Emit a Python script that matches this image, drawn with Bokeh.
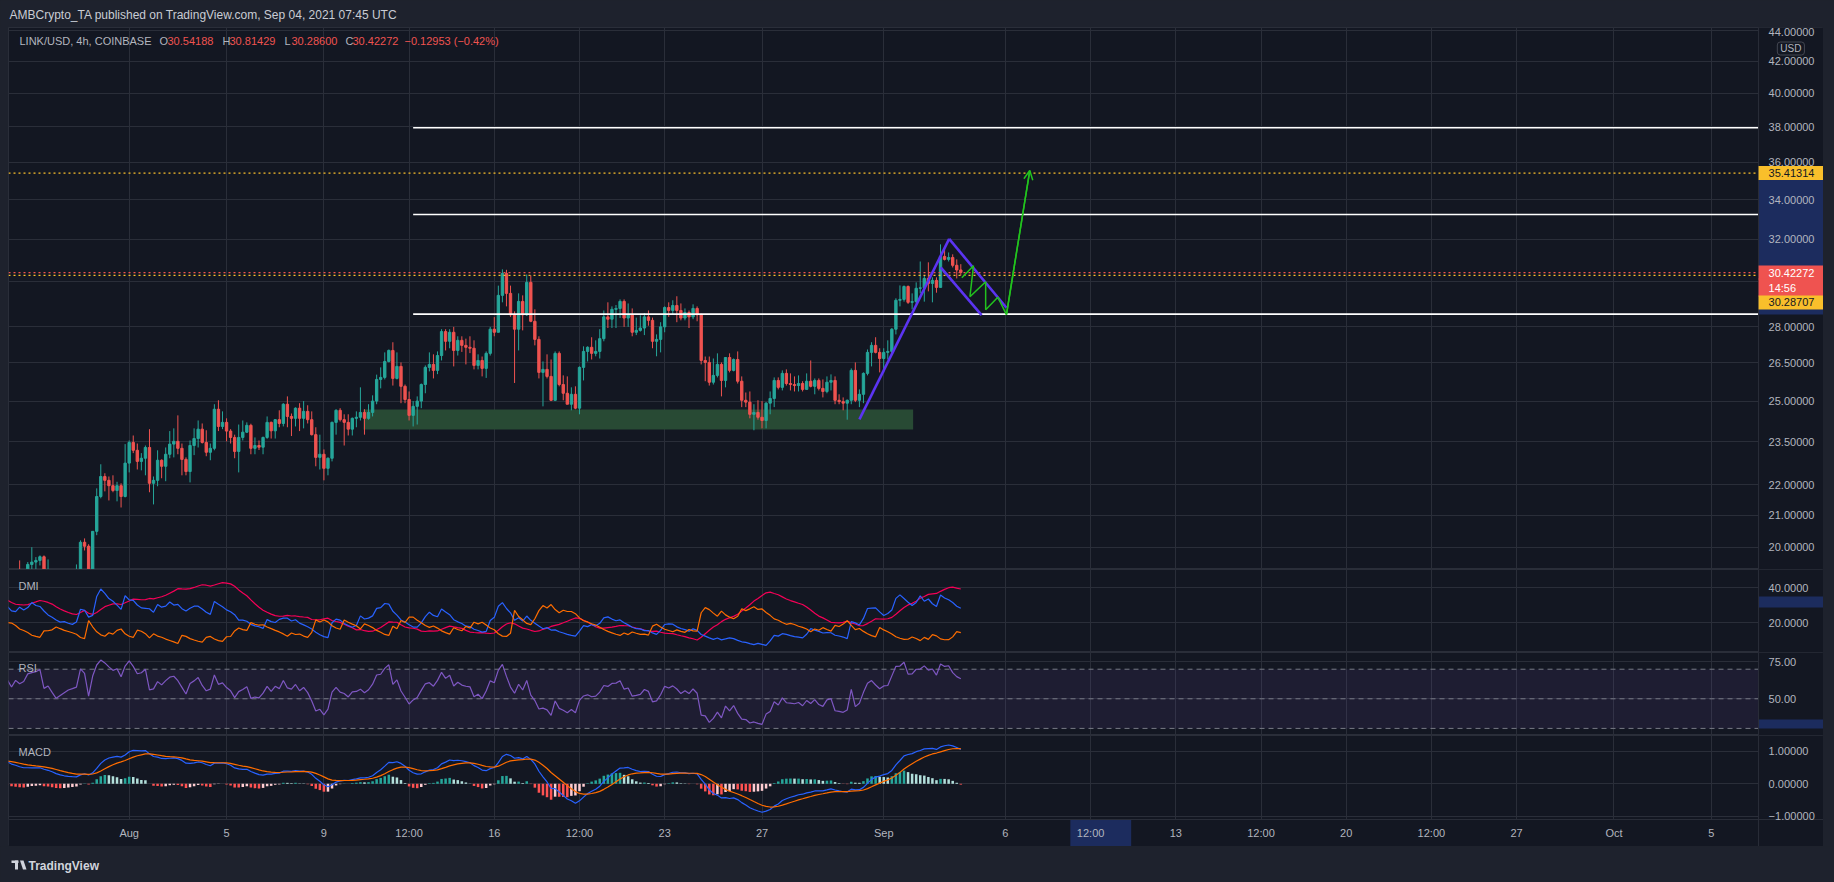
import math
from datetime import datetime, timedelta
from bokeh.plotting import figure
from bokeh.layouts import column
from bokeh.models import (Range1d, FixedTicker, Label, Span, Arrow, OpenHead,
                          ColumnDataSource)
from bokeh.embed import file_html
from bokeh.resources import INLINE
from bokeh.core.properties import value

# ---------------------------------------------------------------- data
bar_start = datetime(2021, 7, 27, 0, 0)   # first 4h candle
first_open = 19.1
closes = [
    19.0, 18.8, 19.1, 19.0, 19.1, 19.48, 19.55, 19.6, 19.71, 19.2,
    19.3, 19.1, 18.9, 19.0, 19.1, 19.2, 19.25, 19.3, 20.15, 20.03,
    19.25, 20.49, 21.61, 22.28, 22.15, 21.97, 21.81, 21.97, 21.61, 22.74,
    23.47, 23.19, 22.8, 22.91, 23.29, 22.05, 22.15, 22.84, 22.63, 23.05,
    23.41, 23.51, 23.26, 22.87, 22.45, 23.36, 23.61, 23.95, 23.47, 23.12,
    23.26, 24.69, 24.05, 24.2, 23.88, 23.65, 23.15, 23.65, 23.84, 24.09,
    23.26, 23.36, 23.3, 23.65, 24.2, 23.89, 24.3, 24.16, 24.88, 24.42,
    24.35, 24.73, 24.35, 24.61, 24.3, 23.75, 22.94, 23.05, 22.56, 22.91,
    24.2, 24.65, 24.3, 24.2, 23.95, 24.35, 24.39, 24.57, 24.35, 24.57,
    25.0, 25.84, 25.92, 26.56, 27.01, 25.88, 26.36, 25.57, 25.06, 24.46,
    24.8, 25.0, 25.64, 26.32, 26.44, 26.2, 26.8, 27.8, 27.39, 27.77,
    27.01, 27.43, 27.22, 27.14, 27.1, 26.4, 26.6, 26.28, 26.89, 27.9,
    27.77, 29.38, 30.38, 29.47, 28.52, 27.9, 29.11, 28.52, 29.97, 28.24,
    27.47, 26.12, 26.24, 25.96, 25.03, 26.89, 25.64, 25.3, 24.88, 25.26,
    24.73, 26.32, 26.97, 27.14, 26.89, 26.97, 27.5, 28.43, 28.33, 28.76,
    28.8, 29.11, 28.38, 28.52, 27.77, 27.85, 27.95, 28.43, 28.28, 27.39,
    27.47, 28.0, 28.84, 28.71, 28.93, 28.71, 28.38, 28.62, 28.43, 28.8,
    28.52, 26.6, 26.52, 25.73, 26.0, 26.44, 25.8, 26.72, 26.2, 26.64,
    25.77, 25.03, 24.96, 24.5, 24.57, 24.39, 24.27, 24.92, 25.1, 25.8,
    25.53, 26.08, 25.68, 25.64, 25.6, 25.68, 25.45, 25.77, 25.57, 25.8,
    25.49, 25.37, 25.73, 25.8, 25.03, 24.98, 24.92, 25.03, 26.2, 25.03,
    25.26, 26.08, 26.93, 27.22, 26.93, 26.68, 26.93, 26.97, 27.9, 29.16,
    29.2, 29.78, 29.07, 29.1, 29.7, 29.72, 30.15, 29.92, 30.06, 29.74,
    31.18, 31.04, 31.13, 30.76, 30.54, 30.42272,
]
highs = [
    19.2, 19.1, 19.2, 19.6, 19.3, 19.55, 20.0, 19.7, 19.75, 19.75,
    19.63, 19.3, 19.2, 19.2, 19.3, 19.3, 19.32, 19.48, 20.21, 20.27,
    20.09, 20.5, 21.88, 22.7, 22.39, 22.28, 22.32, 22.1, 22.05, 23.41,
    23.54, 23.72, 23.43, 23.09, 23.36, 23.95, 22.28, 23.19, 22.87, 23.29,
    23.88, 23.98, 24.46, 23.43, 22.94, 23.54, 23.98, 24.27, 24.16, 23.91,
    23.43, 24.88, 25.03, 24.61, 24.35, 23.95, 23.75, 24.12, 24.27, 24.2,
    24.15, 23.65, 23.54, 23.68, 24.42, 24.23, 24.32, 24.65, 24.92, 25.18,
    24.53, 24.76, 24.92, 25.0, 24.84, 24.61, 24.02, 23.75, 23.22, 22.94,
    24.23, 24.69, 24.73, 24.5, 24.5, 24.38, 24.61, 25.53, 24.69, 24.88,
    25.22, 26.03, 26.32, 26.93, 27.05, 27.35, 26.93, 26.52, 25.64, 25.37,
    25.0, 25.18, 25.68, 26.4, 26.93, 26.85, 26.97, 27.9, 27.9, 27.9,
    28.0, 27.6, 27.6, 27.5, 27.6, 27.43, 26.85, 26.76, 26.97, 28.0,
    28.42, 29.82, 30.57, 30.55, 29.82, 28.67, 29.47, 29.38, 30.33, 30.29,
    28.76, 27.6, 26.56, 26.85, 26.64, 26.97, 26.97, 26.0, 25.96, 25.53,
    25.57, 26.36, 27.18, 27.18, 27.56, 27.43, 27.9, 28.71, 29.07, 28.89,
    28.95, 29.2, 29.2, 29.02, 28.8, 28.4, 28.5, 28.6, 28.71, 28.4,
    27.68, 28.2, 28.89, 29.07, 29.16, 29.34, 29.02, 28.8, 28.71, 28.98,
    28.89, 28.57, 26.76, 26.76, 26.68, 26.89, 26.52, 26.72, 26.89, 26.68,
    26.97, 25.96, 25.33, 25.37, 24.88, 25.03, 25.0, 24.96, 25.37, 25.92,
    25.92, 26.2, 26.24, 26.08, 25.96, 26.0, 25.77, 26.08, 26.6, 25.88,
    25.88, 25.84, 25.96, 26.04, 25.96, 25.26, 25.14, 25.06, 26.28, 26.52,
    25.45, 26.12, 27.05, 27.35, 27.56, 27.1, 27.1, 27.43, 27.95, 29.25,
    29.83, 29.83, 29.83, 29.47, 29.97, 30.94, 30.29, 30.9, 30.2, 30.2,
    31.76, 31.66, 31.37, 31.28, 31.04, 30.81429,
]
lows = [
    18.6, 18.5, 18.7, 18.8, 18.9, 19.0, 19.2, 19.3, 19.45, 19.1,
    19.0, 18.9, 18.7, 18.8, 18.9, 19.0, 19.0, 19.1, 19.2, 19.9,
    19.0, 19.1, 20.37, 21.55, 21.78, 21.48, 21.75, 21.45, 21.25, 21.58,
    22.42, 23.09, 22.52, 22.49, 22.32, 21.75, 21.35, 21.95, 22.22, 22.12,
    22.91, 22.94, 23.05, 22.32, 22.32, 22.08, 23.02, 23.29, 23.43, 22.98,
    22.84, 23.19, 23.88, 23.95, 23.51, 23.43, 22.91, 22.42, 23.54, 23.81,
    23.05, 23.05, 23.2, 23.05, 23.6, 23.61, 23.61, 24.02, 24.05, 24.02,
    23.7, 24.05, 23.88, 23.98, 24.16, 23.72, 22.63, 22.52, 22.15, 22.32,
    22.8, 23.75, 24.23, 23.36, 23.72, 23.72, 24.02, 24.27, 23.75, 24.3,
    24.42, 24.88, 25.49, 25.84, 26.52, 25.6, 25.84, 24.92, 24.92, 24.27,
    24.05, 24.12, 24.73, 25.3, 26.16, 25.88, 26.05, 26.6, 27.01, 27.1,
    26.36, 26.8, 26.95, 26.44, 26.9, 26.24, 26.24, 25.96, 25.9, 26.8,
    27.6, 27.8, 29.07, 28.89, 28.43, 25.7, 27.01, 27.85, 28.47, 28.2,
    27.22, 25.88, 24.8, 25.88, 25.0, 25.0, 25.57, 25.03, 24.88, 24.65,
    24.69, 24.5, 25.8, 26.56, 26.64, 26.77, 26.68, 27.39, 27.95, 27.95,
    27.95, 28.38, 28.0, 28.0, 27.6, 27.65, 27.8, 27.65, 28.05, 27.1,
    26.77, 26.93, 27.77, 28.43, 28.52, 28.2, 28.28, 28.28, 27.95, 28.33,
    28.24, 26.44, 25.77, 25.6, 25.64, 25.92, 25.18, 25.53, 26.12, 26.16,
    25.68, 24.77, 24.77, 24.35, 23.91, 24.3, 23.98, 23.98, 24.5, 24.77,
    25.45, 25.41, 25.6, 25.41, 25.37, 25.37, 25.37, 25.45, 25.53, 25.26,
    25.41, 25.14, 25.3, 25.41, 24.88, 24.88, 24.65, 24.3, 24.88, 24.96,
    24.77, 24.92, 26.0, 26.36, 26.89, 26.12, 26.12, 26.64, 26.89, 27.68,
    28.89, 29.1, 29.0, 28.76, 29.02, 29.47, 29.1, 29.56, 29.07, 29.5,
    29.74, 30.99, 30.94, 30.66, 30.15, 30.286,
]
last_open = 30.54188

price_ticks = [20, 21, 22, 23.5, 25, 26.5, 28, 30, 32, 34, 36, 38, 40, 42, 44]
price_tick_labels = ["20.00000", "21.00000", "22.00000", "23.50000", "25.00000", "26.50000",
                     "28.00000", "30.00000", "32.00000", "34.00000", "36.00000", "38.00000",
                     "40.00000", "42.00000", "44.00000"]
dmi_ticks = [20, 40]
dmi_tick_labels = ["20.0000", "40.0000"]
rsi_ticks = [50, 75]
rsi_tick_labels = ["50.00", "75.00"]
macd_ticks = [-1, 0, 1]
macd_tick_labels = ["\u22121.00000", "0.00000", "1.00000"]
time_tick_dates = [datetime(2021, 8, 1), datetime(2021, 8, 5), datetime(2021, 8, 9),
                   datetime(2021, 8, 12, 12), datetime(2021, 8, 16), datetime(2021, 8, 19, 12),
                   datetime(2021, 8, 23), datetime(2021, 8, 27), datetime(2021, 9, 1),
                   datetime(2021, 9, 6), datetime(2021, 9, 9, 12), datetime(2021, 9, 13),
                   datetime(2021, 9, 16, 12), datetime(2021, 9, 20), datetime(2021, 9, 23, 12),
                   datetime(2021, 9, 27), datetime(2021, 10, 1), datetime(2021, 10, 5)]
time_tick_labels = ["Aug", "5", "9", "12:00", "16", "12:00", "23", "27", "Sep", "6",
                    "12:00", "13", "12:00", "20", "12:00", "27", "Oct", "5"]

# drawings
level_prices = [37.95, 33.24, 28.55]
level_start = datetime(2021, 8, 12, 16)
zone_times = [datetime(2021, 8, 10, 15), datetime(2021, 9, 2, 5)]
zone_prices = [23.94, 24.68]
target_price = 35.41314
current_price = 30.42272
support_price = 30.28707
pole_t = [datetime(2021, 8, 31, 0), datetime(2021, 9, 3, 16, 30)]
pole_p = [24.31, 32.03]
upper_t = [datetime(2021, 9, 3, 16, 30), datetime(2021, 9, 6, 1)]
upper_p = [32.03, 28.83]
lower_t = [datetime(2021, 9, 3, 8, 10), datetime(2021, 9, 5, 0, 30)]
lower_p = [30.66, 28.51]
path_t = [datetime(2021, 9, 4, 5), datetime(2021, 9, 4, 16, 30), datetime(2021, 9, 4, 13),
          datetime(2021, 9, 5, 4, 30), datetime(2021, 9, 5, 4, 30), datetime(2021, 9, 5, 16, 30),
          datetime(2021, 9, 6, 1), datetime(2021, 9, 7, 0)]
path_p = [30.18, 30.74, 29.32, 30.0, 28.74, 29.30, 28.53, 35.55]
dmi_axis_band = [28.7, 35.0]
rsi_axis_band = [29.9, 36.0]
time_highlight = [datetime(2021, 9, 8, 16), datetime(2021, 9, 11, 4)]

# indicator starting states (read at the left edge of the picture)
dmi_seed = dict(atr=0.5, pdm=0.16, mdm=0.11, adx=34.0)
rsi_seed = dict(gain=0.13, loss=0.07)
macd_seed = dict(fast=19.05, slow=18.32, signal=0.70)

# ---------------------------------------------------------------- styles
BG = "#131722"
OUTER = "#1e222d"
GRID = "#2a2e39"
TXT = "#b2b5be"
UP = "#26a69a"
DOWN = "#ef5350"
YEL = "#f9bf2b"
NAVY = "#1c2c5e"
FLAG = "#5b34f2"
GREEN = "#22c31e"
FONT = "Liberation Sans"

EPOCH = datetime(1970, 1, 1)


def ms(d):
    return int((d - EPOCH).total_seconds() * 1000)


H4 = 4 * 3600 * 1000
N = len(closes)
xs = [ms(bar_start) + i * H4 for i in range(N)]
opens = [first_open] + closes[:-1]
opens[-1] = last_open
hi = [max(h, o, c) for h, o, c in zip(highs, opens, closes)]
lo = [min(l, o, c) for l, o, c in zip(lows, opens, closes)]

# ---------------------------------------------------------------- indicators
L = 14
atr, pdm_s, mdm_s, adx = dmi_seed["atr"], dmi_seed["pdm"], dmi_seed["mdm"], dmi_seed["adx"]
plus_di, minus_di, adx_v = [], [], []
for i in range(N):
    ph = hi[i - 1] if i > 0 else hi[0]
    pl = lo[i - 1] if i > 0 else lo[0]
    pc = closes[i - 1] if i > 0 else opens[0]
    upm = hi[i] - ph
    dnm = pl - lo[i]
    pdm = upm if (upm > dnm and upm > 0) else 0.0
    mdm = dnm if (dnm > upm and dnm > 0) else 0.0
    tr = max(hi[i] - lo[i], abs(hi[i] - pc), abs(lo[i] - pc))
    atr += (tr - atr) / L
    pdm_s += (pdm - pdm_s) / L
    mdm_s += (mdm - mdm_s) / L
    pdi = 100 * pdm_s / atr
    mdi = 100 * mdm_s / atr
    s = pdi + mdi
    dx = 100 * abs(pdi - mdi) / (s if s else 1)
    adx += (dx - adx) / L
    plus_di.append(pdi)
    minus_di.append(mdi)
    adx_v.append(adx)

ag, al = rsi_seed["gain"], rsi_seed["loss"]
rsi = []
for i in range(N):
    pc = closes[i - 1] if i > 0 else opens[0]
    ch = closes[i] - pc
    ag += (max(ch, 0) - ag) / L
    al += (max(-ch, 0) - al) / L
    rsi.append(100 - 100 / (1 + ag / al) if al else 100)

ef, es, sg = macd_seed["fast"], macd_seed["slow"], macd_seed["signal"]
macd, signal, hist = [], [], []
for c in closes:
    ef += (c - ef) * 2 / 13
    es += (c - es) * 2 / 27
    m = ef - es
    sg += (m - sg) * 2 / 10
    macd.append(m)
    signal.append(sg)
    hist.append(m - sg)
hist_colors = []
prev = hist[0]
for h in hist:
    if h >= 0:
        hist_colors.append("#26a69a" if h > prev else "#b2dfdb")
    else:
        hist_colors.append("#ffcdd2" if h > prev else "#ff5252")
    prev = h

# ---------------------------------------------------------------- layout helpers
# the frame of every pane also covers the price-scale strip on its right
x_range = Range1d(ms(datetime(2021, 7, 27, 1, 0)), ms(datetime(2021, 10, 9, 14, 38)))
strip_start = datetime(2021, 10, 6, 22, 36)          # left edge of the price scale
strip_x0 = ms(strip_start)
strip_x1 = x_range.end
scale_text_x = ms(strip_start + timedelta(hours=9.9))
usd_x = ms(strip_start + timedelta(hours=18.5))
xticks = [ms(d) for d in time_tick_dates]


def pane(fh, yr, ticks, ylog=False, with_time=False):
    p = figure(frame_width=1815, frame_height=fh, x_range=x_range, y_range=yr,
               y_axis_type="log" if ylog else "linear",
               x_axis_location="below" if with_time else None,
               y_axis_location=None, toolbar_location=None,
               output_backend="svg", background_fill_color=BG,
               border_fill_color=BG, outline_line_color=GRID, min_border=0)
    p.margin = (0, 11, 0, 8)
    p.xgrid.ticker = FixedTicker(ticks=xticks)
    p.xgrid.grid_line_color = GRID
    p.ygrid.ticker = FixedTicker(ticks=ticks)
    p.ygrid.grid_line_color = GRID
    # price-scale strip (hides the grid there) and its separator
    p.quad(left=[strip_x0], right=[strip_x1], bottom=[yr.start], top=[yr.end],
           fill_color=BG, line_color=None)
    p.add_layout(Span(location=strip_x0, dimension="height", line_color=GRID, line_width=1))
    return p


def scale_labels(p, ticks, labels, baseline="middle"):
    p.text(x=[scale_text_x] * len(ticks), y=ticks, text=labels, text_color=TXT,
           text_font=value(FONT), text_font_size=value("11px"),
           text_baseline=baseline, text_align="left")


def band(p, lo_v, hi_v):
    p.quad(left=[strip_x0 + 1], right=[strip_x1], bottom=[lo_v], top=[hi_v],
           fill_color=NAVY, line_color=None)


def pane_label(p, text, y_from_bottom):
    p.add_layout(Label(x=10, y=y_from_bottom, x_units="screen", y_units="screen",
                       text=text, text_color=TXT, text_font=FONT,
                       text_font_size="11px", text_baseline="middle"))


def axis_box(p, price, text, bg, fg, yoff=0, right_pad=10):
    p.add_layout(Label(x=strip_x0, y=price, y_offset=yoff, text=text,
                       text_color=fg, text_font=FONT, text_font_size="11px",
                       text_baseline="middle", text_align="left",
                       background_fill_color=bg, background_fill_alpha=1.0,
                       padding=dict(left=10, right=right_pad, top=3, bottom=3)))


# ---- header
header = figure(width=1834, height=27, x_range=Range1d(0, 1834), y_range=Range1d(27, 0),
                toolbar_location=None, output_backend="svg", min_border=0,
                x_axis_location=None, y_axis_location=None,
                background_fill_color=OUTER, border_fill_color=OUTER, outline_line_color=None)
header.grid.visible = False
header.add_layout(Label(x=9, y=14, text="AMBCrypto_TA published on TradingView.com, Sep 04, 2021 07:45 UTC",
                        text_color="#c9ccd4", text_font=FONT, text_font_size="12px",
                        text_baseline="middle"))

# ---- main price pane
price_range = Range1d(19.33, 44.23)
main = pane(542, price_range, price_ticks, ylog=True)
band(main, min(path_p), max(path_p))

main.quad(left=[ms(zone_times[0])], right=[ms(zone_times[1])],
          bottom=[zone_prices[0]], top=[zone_prices[1]],
          fill_color="#284a34", line_color=None)

candles = ColumnDataSource(dict(
    x=xs, h=hi, l=lo,
    top=[max(o, c) for o, c in zip(opens, closes)],
    bottom=[min(o, c) for o, c in zip(opens, closes)],
    color=[UP if c >= o else DOWN for o, c in zip(opens, closes)],
))
main.segment(x0="x", y0="h", x1="x", y1="l", source=candles, line_color="color", line_width=1)
main.vbar(x="x", width=H4 * 0.58, top="top", bottom="bottom", source=candles,
          fill_color="color", line_color="color", line_width=1)

for lv in level_prices:
    main.segment(x0=[ms(level_start)], y0=[lv], x1=[strip_x0], y1=[lv],
                 line_color="#ffffff", line_width=1.6)

for lv, col in ((target_price, YEL), (current_price, DOWN), (support_price, YEL)):
    main.segment(x0=[x_range.start], y0=[lv], x1=[strip_x0], y1=[lv],
                 line_color=col, line_dash="2 3", line_width=1.2)

for tt, pp in ((pole_t, pole_p), (upper_t, upper_p), (lower_t, lower_p)):
    main.line([ms(t) for t in tt], pp, line_color=FLAG, line_width=2.6)

main.line([ms(t) for t in path_t], path_p, line_color=GREEN, line_width=1.5)
main.add_layout(Arrow(end=OpenHead(size=9, line_color=GREEN, line_width=1.5),
                      x_start=ms(path_t[-2]), y_start=path_p[-2],
                      x_end=ms(path_t[-1]), y_end=path_p[-1],
                      line_color=GREEN, line_width=1.5))

# the top tick label (44) sits at the pane's top edge so that it stays whole
scale_labels(main, price_ticks[:-1], price_tick_labels[:-1])
main.text(x=[scale_text_x], y=[price_range.end], text=[price_tick_labels[-1]], text_color=TXT,
          text_font=value(FONT), text_font_size=value("11px"),
          text_baseline="top", text_align="left")

axis_box(main, target_price, "35.41314", YEL, "#131722")
axis_box(main, current_price, "30.42272", DOWN, "#ffffff")
axis_box(main, current_price, "14:56", DOWN, "#ffffff", yoff=-15, right_pad=29)
axis_box(main, support_price, "30.28707", YEL, "#131722", yoff=-27)

main.add_layout(Label(x=usd_x, y=521, y_units="screen", text="USD",
                      text_color=TXT, text_font=FONT, text_font_size="10px",
                      text_baseline="middle", border_line_color="#434651",
                      border_radius=3, padding=dict(left=3, right=3, top=1, bottom=1)))

# legend line
legend_parts = [("LINK/USD, 4h, COINBASE", 11, TXT), ("O", 151, TXT), ("30.54188", 159, DOWN),
                ("H", 214, TXT), ("30.81429", 221, DOWN), ("L", 276, TXT),
                ("30.28600", 283, DOWN), ("C", 337, TXT), ("30.42272", 344, DOWN),
                ("\u22120.12953 (\u22120.42%)", 396, DOWN)]
for txt, xpos, col in legend_parts:
    main.add_layout(Label(x=xpos, y=529, x_units="screen", y_units="screen", text=txt,
                          text_color=col, text_font=FONT, text_font_size="11px",
                          text_baseline="middle"))

# ---- DMI
dmi = pane(83, Range1d(3.03, 50.46), dmi_ticks)
band(dmi, *dmi_axis_band)
dmi.line(xs, adx_v, line_color="#f50057", line_width=1.2)
dmi.line(xs, plus_di, line_color="#2962ff", line_width=1.2)
dmi.line(xs, minus_di, line_color="#ff6d00", line_width=1.2)
scale_labels(dmi, dmi_ticks, dmi_tick_labels)
pane_label(dmi, "DMI", 67)

# ---- RSI
rsi_fig = pane(83, Range1d(25.2, 81.3), rsi_ticks)
band(rsi_fig, *rsi_axis_band)
rsi_fig.quad(left=[x_range.start], right=[strip_x0], bottom=[30], top=[70],
             fill_color="#7e57c2", fill_alpha=0.1, line_color=None)
for lv in (70, 50, 30):
    rsi_fig.segment(x0=[x_range.start], y0=[lv], x1=[strip_x0], y1=[lv],
                    line_color="#787b86", line_dash="5 4", line_width=1)
rsi_fig.line(xs, rsi, line_color="#7e57c2", line_width=1.2)
scale_labels(rsi_fig, rsi_ticks, rsi_tick_labels)
pane_label(rsi_fig, "RSI", 68)

# ---- MACD pane; its frame also holds the time-scale strip underneath
macd_range = Range1d(-1.918, 1.477)
macd_floor = -1.092                                  # top of the time-scale strip
macd_fig = pane(111, macd_range, macd_ticks, with_time=True)
macd_fig.quad(left=[x_range.start], right=[x_range.end], bottom=[macd_range.start],
              top=[macd_floor], fill_color=BG, line_color=None)
macd_fig.quad(left=[ms(time_highlight[0])], right=[ms(time_highlight[1])],
              bottom=[macd_range.start], top=[macd_floor], fill_color=NAVY, line_color=None)
macd_fig.segment(x0=[x_range.start], y0=[macd_floor], x1=[x_range.end], y1=[macd_floor],
                 line_color=GRID, line_width=1)
macd_fig.vbar(x=xs, width=H4 * 0.62, top=hist, bottom=0, fill_color=hist_colors,
              line_color=None)
macd_fig.line(xs, macd, line_color="#2962ff", line_width=1.2)
macd_fig.line(xs, signal, line_color="#ff6d00", line_width=1.2)
scale_labels(macd_fig, macd_ticks, macd_tick_labels)
xa = macd_fig.xaxis[0]
xa.ticker = FixedTicker(ticks=xticks)
xa.major_label_overrides = {t: lab for t, lab in zip(xticks, time_tick_labels)}
xa.major_tick_line_color = None
xa.minor_tick_line_color = None
xa.major_tick_out = 0
xa.major_tick_in = 0
xa.axis_line_color = None
xa.major_label_text_color = TXT
xa.major_label_text_font = FONT
xa.major_label_text_font_size = "11px"
xa.major_label_standoff = -20                       # labels sit inside the strip
pane_label(macd_fig, "MACD", 95)

# ---- footer
footer = figure(width=1834, height=36, x_range=Range1d(0, 1834), y_range=Range1d(36, 0),
                toolbar_location=None, output_backend="svg", min_border=0,
                x_axis_location=None, y_axis_location=None,
                background_fill_color=OUTER, border_fill_color=OUTER, outline_line_color=None)
footer.grid.visible = False
footer.quad(left=[11, 14.5], right=[18, 17.5], top=[14, 14], bottom=[16.5, 23],
            fill_color="#d1d4dc", line_color=None)
footer.patch([19.5, 23, 26, 22.5], [14, 14, 23, 23], fill_color="#d1d4dc", line_color=None)
footer.add_layout(Label(x=28, y=19, text="TradingView", text_color="#d1d4dc",
                        text_font=FONT, text_font_size="12px", text_font_style="bold",
                        text_baseline="middle"))

layout = column(header, main, dmi, rsi_fig, macd_fig, footer, spacing=0,
                styles={"background-color": OUTER})

open("out.html", "w").write(file_html(layout, INLINE))
